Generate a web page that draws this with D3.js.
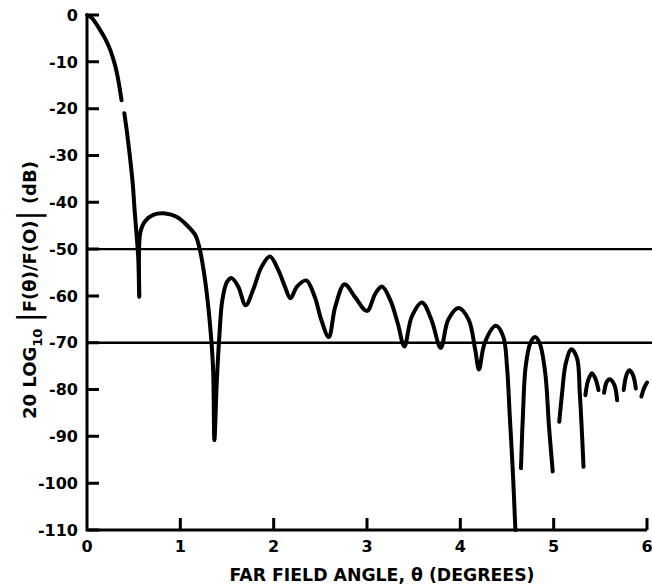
<!DOCTYPE html>
<html>
<head>
<meta charset="utf-8">
<script src="https://cdn.jsdelivr.net/npm/d3@7"></script>
<style>
  html, body { margin: 0; padding: 0; background: #fff; }
  svg { display: block; }
  text { font-family: "DejaVu Sans", sans-serif; font-weight: bold; fill: #000; }
</style>
</head>
<body>
<div id="chart"></div>
<script>
// far field pattern; null = pen lifted
const theta = [
  0, 0.05, 0.10, 0.14, 0.19, 0.25, 0.30, 0.335, 0.37, null,
  0.40, 0.43, 0.46, 0.49, 0.51, 0.53, 0.55, 0.56,
  0.57, 0.62, 0.71, 0.84, 0.96, 1.07, 1.16, 1.21, 1.26, 1.31, 1.35, 1.365,
  1.39, 1.42, 1.45, 1.50, 1.55, 1.62, 1.70, 1.78, 1.87, 1.96,
  2.05, 2.12, 2.18, 2.25, 2.35, 2.44, 2.51, 2.59, 2.66, 2.76, 2.87, 3.00,
  3.09, 3.16, 3.25, 3.33, 3.40, 3.48, 3.59, 3.69, 3.79, 3.87, 3.98,
  4.09, 4.16, 4.20, 4.26, 4.38, 4.46, 4.50, 4.53, 4.56, 4.59, null,
  4.65, 4.67, 4.70, 4.75, 4.80, 4.85, 4.91, 4.95, 4.99, null,
  5.06, 5.09, 5.13, 5.19, 5.25, 5.28, 5.32, null,
  5.34, 5.37, 5.41, 5.45, 5.48, null,
  5.54, 5.57, 5.60, 5.65, 5.68, null,
  5.75, 5.78, 5.81, 5.85, 5.88, null,
  5.94, 5.97, 6.00
];
const gainDb = [
  0, -0.6, -1.9, -3.2, -4.9, -7.5, -10.7, -13.9, -18.2, null,
  -21, -25.3, -30.3, -36, -41.7, -46.6, -52.3, -60.2,
  -46.6, -44.1, -42.7, -42.4, -43.1, -44.9, -47, -50.2, -55.9, -64.4, -75.1, -90.8,
  -78.6, -68, -60.9, -57, -56.2, -58, -62, -58.7, -53.8, -51.6,
  -54.5, -58, -60.5, -58, -56.7, -60.2, -65.1, -68.8, -62.3, -57.5, -60.2, -63.2,
  -59.5, -58, -60.9, -65.9, -70.8, -64.4, -61.4, -65.1, -71.1, -65.1, -62.6,
  -65.1, -71.6, -75.7, -70.1, -66.4, -68.7, -75.1, -85.8, -96.5, -110, null,
  -96.8, -85.8, -75.1, -70.1, -68.8, -70.1, -76.5, -87.9, -97.5, null,
  -86.9, -80.8, -74.4, -71.4, -73.3, -80.8, -96.5, null,
  -81.2, -78, -76.5, -77.8, -80.1, null,
  -80.7, -78.3, -77.8, -79, -82.3, null,
  -80.1, -76.9, -75.9, -76.9, -79.8, null,
  -81.5, -79.6, -78.5
];
const xTicks = [0, 1, 2, 3, 4, 5, 6];
const yTicks = [0, -10, -20, -30, -40, -50, -60, -70, -80, -90, -100, -110];
const refLevels = [-50, -70];

const width = 652, height = 588;
const tickLen = 12;
const svg = d3.select('#chart').append('svg')
  .attr('width', width).attr('height', height);

const x = d3.scaleLinear().domain([0, 6]).range([87, 647]);
const y = d3.scaleLinear().domain([-110, 0]).range([530, 15]);

// reference levels
svg.selectAll('line.ref').data(refLevels).join('line')
  .attr('class', 'ref')
  .attr('x1', x(0)).attr('x2', width)
  .attr('y1', d => y(d)).attr('y2', d => y(d))
  .attr('stroke', '#000').attr('stroke-width', 2.4);

// axis lines
svg.append('path')
  .attr('d', `M${x(0)},${y(0)}V${y(-110)}H${x(6)}`)
  .attr('fill', 'none').attr('stroke', '#000').attr('stroke-width', 3);

// inward tick marks, one path
const tickPath = d3.path();
yTicks.forEach(d => { tickPath.moveTo(x(0), y(d)); tickPath.lineTo(x(0) + tickLen, y(d)); });
xTicks.filter(d => d > 0).forEach(d => { tickPath.moveTo(x(d), y(-110)); tickPath.lineTo(x(d), y(-110) - tickLen); });
svg.append('path')
  .attr('d', tickPath.toString())
  .attr('fill', 'none').attr('stroke', '#000').attr('stroke-width', 3);

// tick labels
svg.selectAll('text.ylab').data(yTicks).join('text')
  .attr('class', 'ylab')
  .attr('x', x(0) - 9).attr('y', d => y(d)).attr('dy', '0.36em')
  .attr('text-anchor', 'end').attr('font-size', 16)
  .text(d => String(d));
svg.selectAll('text.xlab').data(xTicks).join('text')
  .attr('class', 'xlab')
  .attr('x', d => x(d)).attr('y', y(-110) + 22)
  .attr('text-anchor', 'middle').attr('font-size', 16)
  .text(d => String(d));

// curve
const pts = theta.map((t, i) => [t, gainDb[i]]);
const line = d3.line()
  .defined(d => d[0] !== null && d[1] !== null)
  .x(d => x(d[0])).y(d => y(d[1]))
  .curve(d3.curveCatmullRom.alpha(0.5));
svg.append('path').datum(pts)
  .attr('fill', 'none').attr('stroke', '#000')
  .attr('stroke-width', 4).attr('stroke-linejoin', 'round').attr('stroke-linecap', 'round')
  .attr('d', line);

// axis titles
svg.append('text')
  .attr('x', 382).attr('y', 581).attr('text-anchor', 'middle')
  .attr('font-size', 17).attr('textLength', 305).attr('lengthAdjust', 'spacingAndGlyphs')
  .text('FAR FIELD ANGLE, \u03B8 (DEGREES)');

const yl = svg.append('text')
  .attr('transform', 'translate(36,290) rotate(-90)')
  .attr('text-anchor', 'middle').attr('font-size', 18);
yl.append('tspan').text('20 LOG');
yl.append('tspan').attr('font-size', 13).attr('dy', 6).text('10');
yl.append('tspan').attr('dy', -6).text(' ');
yl.append('tspan').attr('font-size', 30).attr('font-weight', 'normal').attr('dy', 3).text('|');
yl.append('tspan').attr('dy', -3).text('F(\u03B8)/F(O)');
yl.append('tspan').attr('font-size', 30).attr('font-weight', 'normal').attr('dy', 3).text('|');
yl.append('tspan').attr('dy', -3).attr('font-size', 18).text('  (dB)');
</script>
</body>
</html>
